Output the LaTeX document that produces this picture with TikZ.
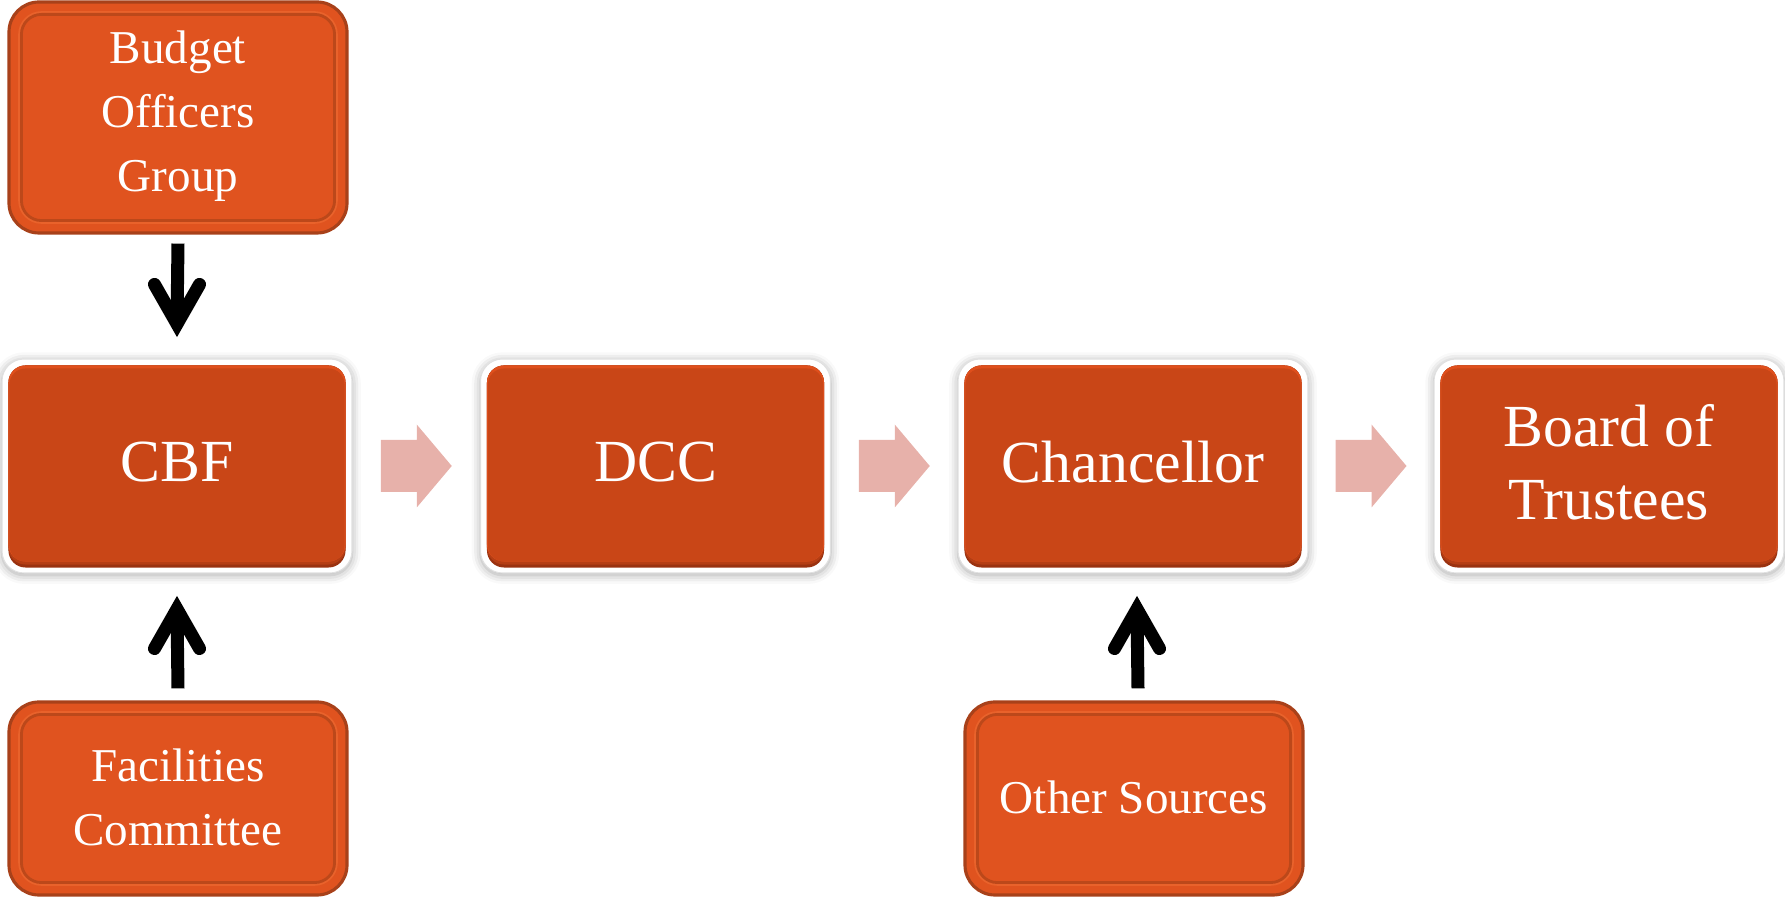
\documentclass[tikz,border=0pt]{standalone}
\usepackage{fontspec}
\setmainfont{Liberation Serif}
\usetikzlibrary{calc,shadows.blur}

\def\px{0.1mm}

\definecolor{mainorange}{HTML}{C94617}
\definecolor{maintop}{HTML}{DF4F1C}
\definecolor{maindark}{HTML}{9A3210}
\definecolor{mainshade}{HTML}{B53E14}
\definecolor{inorange}{HTML}{E0531F}
\definecolor{inedge}{HTML}{A8411A}
\definecolor{inbevel}{HTML}{BC481A}
\definecolor{inlight}{HTML}{E9622B}
\definecolor{flowpink}{HTML}{E7B1AA}

\tikzset{
  outerbox/.style={rectangle, inner sep=0pt, rounded corners=22*\px,
    minimum width=350*\px, minimum height=214*\px,
    fill=white, draw=black!12, line width=0.3pt,
    blur shadow={shadow xshift=0pt, shadow yshift=-0.6pt,
      shadow blur radius=2.5pt, shadow opacity=35}},
  maintext/.style={text=white, align=center, inner sep=0pt,
    font=\fontsize{17}{20.7}\selectfont},
  inouter/.style={rectangle, inner sep=0pt, rounded corners=30*\px,
    fill=inorange, draw=inedge, line width=0.9pt},
  intext/.style={text=white, align=center, inner sep=0pt,
    font=\fontsize{13.4}{18.2}\selectfont},
  shaft/.style={line width=3.7pt, black},
  pics/chev/.style={code={
    \draw[line width=3.7pt, line cap=round, line join=miter, black]
      (-22.5,-53) -- (0,-13.5) -- (22.5,-53);}},
  pics/flowarrow/.style={code={
    \fill[flowpink] (-35.5,-26) -- (0.5,-26) -- (0.5,-41.5) -- (35.5,0)
      -- (0.5,41.5) -- (0.5,26) -- (-35.5,26) -- cycle;}},
}

% main step: white frame with a bevelled orange panel and its label
\newcommand\mainbox[4]{%
  \node[outerbox] (#1) at (#2,#3) {};
  \fill[maindark, rounded corners=17*\px]
    ([shift={(7,7)}]#1.north west) rectangle ([shift={(-7,-6)}]#1.south east);
  \fill[mainshade, rounded corners=17*\px]
    ([shift={(7,7)}]#1.north west) rectangle ([shift={(-7,-9)}]#1.south east);
  \fill[maintop, rounded corners=17*\px]
    ([shift={(7,7)}]#1.north west) rectangle ([shift={(-7,-12)}]#1.south east);
  \fill[mainorange, rounded corners=16*\px]
    ([shift={(8,10)}]#1.north west) rectangle ([shift={(-8,-12)}]#1.south east);
  \node[maintext] (#1-t) at ($(#1)+(0,-4)$) {#4};
}

% input box: orange tile with an inset bevel line
\newcommand\inbox[6]{%
  \node[inouter, minimum width=#4*\px, minimum height=#5*\px] (#1) at (#2,#3) {};
  \draw[inlight, line width=0.7pt, rounded corners=22*\px]
    ([shift={(12,12)}]#1.north west) rectangle ([shift={(-12,-12)}]#1.south east);
  \draw[inbevel, line width=0.8pt, rounded corners=20*\px]
    ([shift={(14,14)}]#1.north west) rectangle ([shift={(-14,-14)}]#1.south east);
  \node[intext] (#1-t) at ($(#1)+(0,-1)$) {#6};
}

\begin{document}
\begin{tikzpicture}[x=\px, y=-\px]
\useasboundingbox (0,0) rectangle (1785,898);

% main row
\mainbox{cbf}{177}{466}{CBF}
\mainbox{dcc}{655.5}{466}{DCC}
\mainbox{chan}{1133}{466}{Chancellor}
\mainbox{bot}{1609}{466}{Board of\\Trustees}

% inputs
\inbox{bog}{178}{117.5}{338}{231}{Budget\\Officers\\Group}
\inbox{fac}{178}{798.5}{338}{193}{Facilities\\Committee}
\inbox{oth}{1134}{798.5}{338}{193}{Other Sources}

% flow arrows between the main steps
\coordinate (m1) at ($(cbf.east)!0.5!(dcc.west)$);
\coordinate (m2) at ($(dcc.east)!0.5!(chan.west)$);
\coordinate (m3) at ($(chan.east)!0.5!(bot.west)$);
\pic at (m1) {flowarrow};
\pic at (m2) {flowarrow};
\pic at (m3) {flowarrow};

% input connectors
\draw[shaft] ($(bog.south)+(0,9)$) -- ($(cbf.north)+(0,-34)$);
\pic at ($(cbf.north)+(0,-21)$) {chev};

\draw[shaft] ($(fac.north)+(0,-12)$) -- ($(cbf.south)+(0,35)$);
\pic[rotate=180] at ($(cbf.south)+(0,22)$) {chev};

\draw[shaft] ($(oth.north)+(4,-12)$) -- ($(chan.south)+(4,35)$);
\pic[rotate=180] at ($(chan.south)+(4,22)$) {chev};
\end{tikzpicture}
\end{document}
